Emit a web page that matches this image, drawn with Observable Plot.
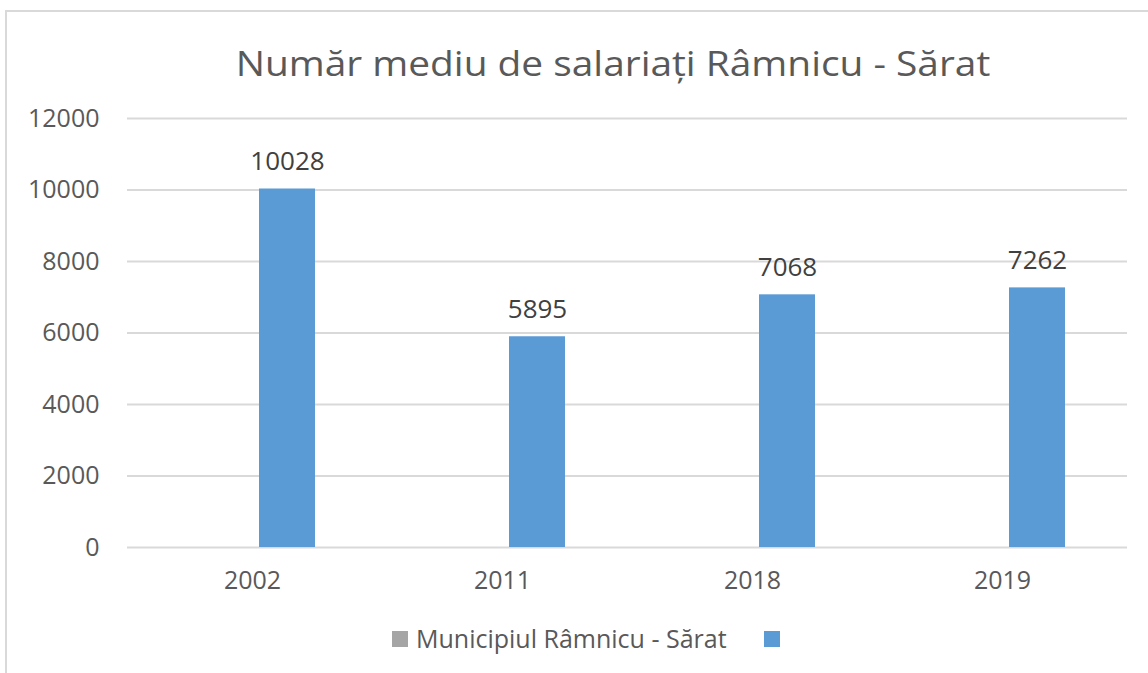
<!DOCTYPE html>
<html>
<head>
<meta charset="utf-8">
<script src="https://cdn.jsdelivr.net/npm/d3@7"></script>
<script src="https://cdn.jsdelivr.net/npm/@observablehq/plot@0.6"></script>
<style>
  html, body { margin: 0; padding: 0; background: #fff; }
  #wrap { position: relative; width: 1148px; height: 673px; overflow: hidden; background: #fff; font-family: "Open Sans", sans-serif; color: #595959; }
  #frame { position: absolute; left: 5px; top: 10px; width: 1300px; height: 800px; border-left: 2px solid #d9d9d9; border-top: 2px solid #d9d9d9; }
  #title { position: absolute; left: 113px; width: 1000px; top: 40px; height: 46px; line-height: 46px; text-align: center; font-size: 35px; color: #595959; white-space: nowrap; transform: scaleX(1.11); transform-origin: 500px 50%; }
  #chart { position: absolute; left: 0; top: 100px; }
  #legend { position: absolute; left: 0; top: 622px; height: 32px; line-height: 32px; font-size: 25px; color: #595959; white-space: nowrap; }
  .sw { position: absolute; top: 9px; width: 16px; height: 16px; }
  .lt { position: absolute; top: 0; }
</style>
</head>
<body>
<div id="wrap">
  <div id="frame"></div>
  <div id="title"></div>
  <div id="chart"></div>
  <div id="legend"></div>
</div>
<script>
const title = "Număr mediu de salariați Râmnicu - Sărat";
const years = ["2002", "2011", "2018", "2019"];
const seriesNames = ["Municipiul Râmnicu - Sărat", ""];
const seriesColors = ["#a5a5a5", "#5b9bd5"];
const municipiulValues = [0, 0, 0, 0];
const blueValues = [10028, 5895, 7068, 7262];
const yTicks = [0, 2000, 4000, 6000, 8000, 10000, 12000];

const rows = [];
years.forEach((yr, i) => {
  rows.push({year: yr, series: seriesNames[0], value: municipiulValues[i]});
  rows.push({year: yr, series: seriesNames[1], value: blueValues[i]});
});
const blueRows = rows.filter(d => d.series === seriesNames[1]);

document.getElementById("title").textContent = title;

const chart = Plot.plot({
  width: 1148,
  height: 520,
  marginLeft: 127,
  marginRight: 21,
  marginTop: 18,
  marginBottom: 73,
  style: {fontFamily: "Open Sans, sans-serif", fontSize: "25px", color: "#595959", background: "transparent"},
  fx: {domain: years, padding: 0, axis: "bottom", tickSize: 0, tickPadding: 24, label: null},
  x: {domain: seriesNames, range: [203, 315], padding: 0, axis: null},
  y: {domain: [0, 12000], ticks: yTicks, tickSize: 0, tickPadding: 28, tickFormat: d => String(d), label: null},
  color: {domain: seriesNames, range: seriesColors},
  marks: [
    Plot.ruleY(yTicks, {stroke: "#d9d9d9", strokeWidth: 2}),
    Plot.barY(rows, {fx: "year", x: "series", y: "value", fill: "series", insetLeft: 0, insetRight: 0}),
    Plot.text(blueRows, {fx: "year", x: "series", y: "value", text: d => String(d.value), dy: -27, fontSize: 26, fill: "#404040"})
  ]
});
document.getElementById("chart").appendChild(chart);

const legend = document.getElementById("legend");
const legendItems = [
  {swLeft: 392, textLeft: 416, name: seriesNames[0], color: seriesColors[0]},
  {swLeft: 764, textLeft: 786, name: seriesNames[1], color: seriesColors[1]}
];
legendItems.forEach(it => {
  const sw = document.createElement("div");
  sw.className = "sw";
  sw.style.left = it.swLeft + "px";
  sw.style.background = it.color;
  legend.appendChild(sw);
  const t = document.createElement("div");
  t.className = "lt";
  t.style.left = it.textLeft + "px";
  t.textContent = it.name;
  legend.appendChild(t);
});
</script>
</body>
</html>
